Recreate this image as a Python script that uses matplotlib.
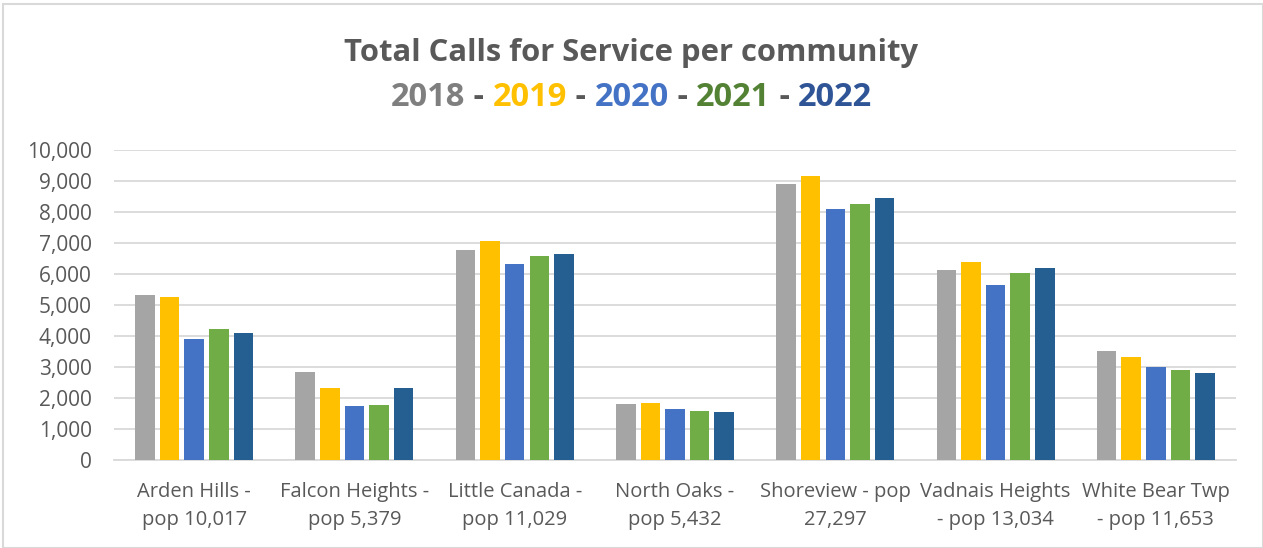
import matplotlib.pyplot as plt
import numpy as np
from matplotlib.patches import Rectangle
from matplotlib.ticker import FuncFormatter, MultipleLocator

plt.rcParams["font.family"] = ["Open Sans", "DejaVu Sans"]

COMMUNITIES = [
    "Arden Hills -\npop 10,017",
    "Falcon Heights -\npop 5,379",
    "Little Canada -\npop 11,029",
    "North Oaks -\npop 5,432",
    "Shoreview - pop\n27,297",
    "Vadnais Heights\n- pop 13,034",
    "White Bear Twp\n- pop 11,653",
]
YEARS = ["2018", "2019", "2020", "2021", "2022"]
CALLS_2018 = [5310, 2850, 6760, 1820, 8890, 6130, 3530]
CALLS_2019 = [5250, 2320, 7070, 1840, 9150, 6400, 3310]
CALLS_2020 = [3910, 1750, 6310, 1660, 8100, 5650, 3000]
CALLS_2021 = [4230, 1770, 6570, 1570, 8260, 6030, 2890]
CALLS_2022 = [4090, 2310, 6630, 1560, 8460, 6180, 2800]

BAR_COLORS = ["#A5A5A5", "#FFC000", "#4472C4", "#70AD47", "#255E91"]
TITLE_COLORS = ["#7F7F7F", "#FFC000", "#4472C4", "#548235", "#2F5597"]
TEXT_GREY = "#595959"
GRID = "#D9D9D9"

fig = plt.figure(figsize=(12.63, 5.48), dpi=100)
ax = fig.add_axes([114 / 1263, 1 - 460 / 548, 1122 / 1263, 310 / 548])

series = [CALLS_2018, CALLS_2019, CALLS_2020, CALLS_2021, CALLS_2022]
x = np.arange(len(COMMUNITIES))
step, width = 0.1535, 0.122
for i, (vals, col) in enumerate(zip(series, BAR_COLORS)):
    ax.bar(x + (i - 2) * step, vals, width=width, color=col, zorder=3)

ax.set_xlim(-0.5, len(COMMUNITIES) - 0.5)
ax.set_ylim(0, 10000)
ax.yaxis.set_major_locator(MultipleLocator(1000))
ax.yaxis.set_major_formatter(FuncFormatter(lambda v, _: f"{int(v):,}"))
ax.grid(axis="y", color=GRID, lw=1.3, zorder=0)
for side in ("top", "right", "left"):
    ax.spines[side].set_visible(False)
ax.spines["bottom"].set_color(GRID)
ax.spines["bottom"].set_linewidth(1.3)
ax.tick_params(length=0, colors=TEXT_GREY)
ax.tick_params(axis="y", pad=16, labelsize=15)
ax.tick_params(axis="x", pad=16)
ax.set_xticks(x)
ax.set_xticklabels(COMMUNITIES, fontsize=14.5, color=TEXT_GREY, linespacing=1.52)

# chart border
fig.patches.append(Rectangle((3 / 1263, 0), 1 - 3 / 1263, 1 - 4 / 548,
                             transform=fig.transFigure, fill=False,
                             edgecolor=GRID, lw=1.5))

fig.text(0.5, 1 - 53 / 548, "Total Calls for Service per community",
         ha="center", va="center", fontsize=22.3, fontweight="bold", color=TEXT_GREY)

# multicolour second title line
pieces = []
for i, (yr, col) in enumerate(zip(YEARS, TITLE_COLORS)):
    if i:
        pieces.append((" - ", TEXT_GREY))
    pieces.append((yr, col))
renderer = fig.canvas.get_renderer()
texts = [fig.text(0, 1 - 98 / 548, s, ha="left", va="center", fontsize=23.5,
                  fontweight="bold", color=c) for s, c in pieces]
widths = [t.get_window_extent(renderer).width for t in texts]
left = (fig.bbox.width - sum(widths)) / 2
for t, w in zip(texts, widths):
    t.set_x(left / fig.bbox.width)
    left += w

fig.savefig("out.png", dpi=100)
